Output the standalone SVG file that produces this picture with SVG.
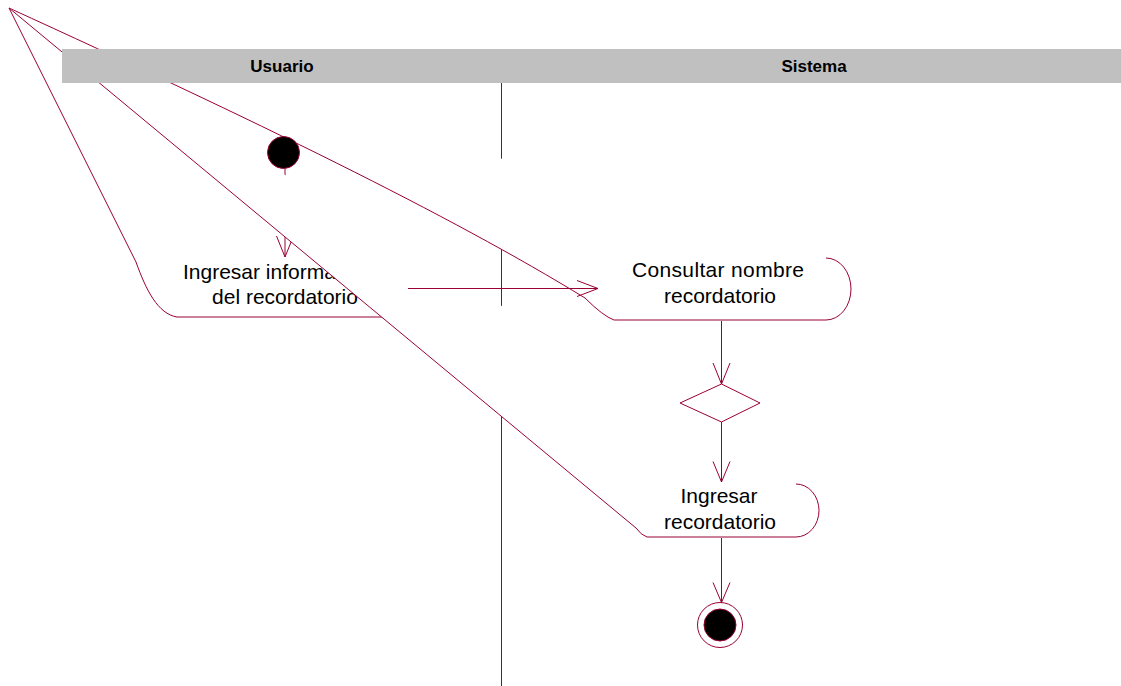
<svg xmlns="http://www.w3.org/2000/svg" width="1121" height="686" viewBox="0 0 1121 686">
<style>
.ln{fill:none;stroke:#990033;stroke-width:1}
.fillw{fill:#ffffff;stroke:none}
.txt{font-family:"Liberation Sans",Arial,sans-serif;font-size:21px;fill:#000000;text-anchor:middle}
.hdr{font-family:"Liberation Sans",Arial,sans-serif;font-size:17px;font-weight:bold;fill:#000000;text-anchor:middle}
</style>
<rect x="0" y="0" width="1121" height="686" fill="#ffffff"/>
<g id="swimlane-divider">
<line class="ln" x1="501.5" y1="82" x2="501.5" y2="686"/>
</g>
<g id="node-ingresar-informacion">
<path class="ln" d="M9,8 L136,262 C146,290 158,314 177,317 L410,317"/>
<text class="txt" x="183" y="279" style="text-anchor:start">Ingresar información</text>
<text class="txt" x="285" y="304">del recordatorio</text>
</g>
<g id="connectors-under">
<line class="ln" x1="285" y1="169" x2="285" y2="257"/>
<polyline class="ln" points="276.5,236 285,257 293.5,236"/>
</g>
<g id="node-consultar">
<path class="fillw" d="M9,8 C250,118 450,215 585,298 Q603,316 614,320 L826,320 A25,31 0 0 0 826,258 Z"/>
<path class="ln" d="M9,8 C250,118 450,215 585,298 Q603,316 614,320 L826,320"/>
<path class="ln" d="M826,258 A25,31 0 0 1 826,320"/>
<text class="txt" x="718" y="277" textLength="172">Consultar nombre</text>
<text class="txt" x="720" y="303">recordatorio</text>
</g>
<g id="node-ingresar-recordatorio">
<path class="fillw" d="M9,8 L636,528 Q641,535 647,537 L796,537 A23,26.5 0 0 0 796,484 Z"/>
<path class="ln" d="M9,8 L636,528 Q641,535 647,537 L796,537"/>
<path class="ln" d="M796,484 A23,26.5 0 0 1 796,537"/>
<text class="txt" x="719" y="503">Ingresar</text>
<text class="txt" x="720" y="529">recordatorio</text>
</g>
<g id="header">
<rect x="62" y="49" width="1059" height="34" fill="#c0c0c0"/>
<text class="hdr" x="282" y="72">Usuario</text>
<text class="hdr" x="814" y="72">Sistema</text>
</g>
<g id="node-initial">
<circle cx="283.5" cy="152.5" r="16" fill="#000000" stroke="#990033" stroke-width="1"/>
</g>
<g id="node-decision">
<polygon points="721.5,384 760,403 721.5,422 680,403" fill="#ffffff" stroke="#990033" stroke-width="1"/>
</g>
<g id="node-final">
<circle cx="720" cy="625" r="22.5" fill="#ffffff" stroke="#990033" stroke-width="1"/>
<circle cx="720" cy="625" r="16" fill="#000000" stroke="#990033" stroke-width="1"/>
</g>
<g id="connectors">
<line class="ln" x1="408" y1="288.5" x2="598" y2="288.5"/>
<polyline class="ln" points="577,280.5 598,288.5 577,296.5"/>
<line class="ln" x1="721.5" y1="321" x2="721.5" y2="384"/>
<polyline class="ln" points="713,363 721.5,384 730,363"/>
<line class="ln" x1="721.5" y1="422" x2="721.5" y2="482"/>
<polyline class="ln" points="713,461.5 721.5,482 730,461.5"/>
<line class="ln" x1="721.5" y1="538" x2="721.5" y2="602.5"/>
<polyline class="ln" points="713,582.5 721.5,602.5 730,582.5"/>
</g>
</svg>
